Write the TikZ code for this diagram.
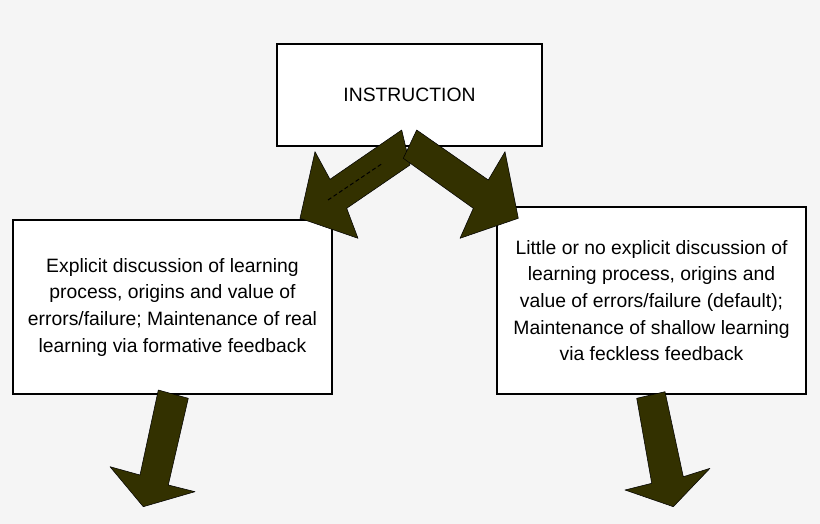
\documentclass[tikz,border=0pt]{standalone}
\usepackage{fontspec}
\setmainfont{Liberation Sans}
\definecolor{arrowfill}{RGB}{51,49,0}
\definecolor{paper}{RGB}{245,245,245}
\tikzset{every picture/.style={line width=0.75pt}}

\begin{document}
\begin{tikzpicture}[x=0.75pt,y=0.75pt,yscale=-1,xscale=1,
	box/.style={draw, fill=white, line width=1.8pt, align=center, inner sep=0pt, font=\fontsize{14.5}{20}\selectfont},
	fatarrow/.style={fill=arrowfill, draw=black, line width=0.4pt, line join=round}]
	%set diagram size 820 x 524
	\fill [paper] (0,0) rectangle (820,524) ;
	\useasboundingbox (0,0) rectangle (820,524) ;

	% Text Node
	\node [box, minimum width=198.75pt, minimum height=76.5pt] (instr) at (409.5,95) {INSTRUCTION};
	% Text Node
	\node [box, minimum width=239.25pt, minimum height=130.5pt] (explicit) at (172.5,307) {Explicit discussion of learning\\process, origins and value of\\errors/failure; Maintenance of real\\learning via formative feedback};
	% Text Node
	\node [box, minimum width=231.75pt, minimum height=140.25pt] (little) at (651.5,300.5) {Little or no explicit discussion of\\learning process, origins and\\value of errors/failure (default);\\Maintenance of shallow learning\\via feckless feedback};

	%Shape: Block Arrow left
	\draw [fatarrow] (401.7,130) -- (410,165) -- (346.7,208.3) -- (358,238.3) -- (300,218.3) -- (315,151.7) -- (330,179.3) -- cycle ;
	%Straight Lines
	\draw [dash pattern={on 3pt off 2pt}] (328,200) -- (383,163) ;
	%Shape: Block Arrow right
	\draw [fatarrow] (416.7,130) -- (403.3,158.3) -- (473.3,208.3) -- (460,238.3) -- (518.3,218.3) -- (505,151.7) -- (488.3,180) -- cycle ;
	%Shape: Block Arrow down left
	\draw [fatarrow] (158.3,390) -- (188.3,398.3) -- (168.3,485) -- (195,491.7) -- (143.3,506.7) -- (110,466.7) -- (140,475) -- cycle ;
	%Shape: Block Arrow down right
	\draw [fatarrow] (636.7,398.3) -- (665,391.7) -- (683.3,476.7) -- (710,468.3) -- (673.3,506.7) -- (625,490) -- (651.7,483.3) -- cycle ;

\end{tikzpicture}
\end{document}
